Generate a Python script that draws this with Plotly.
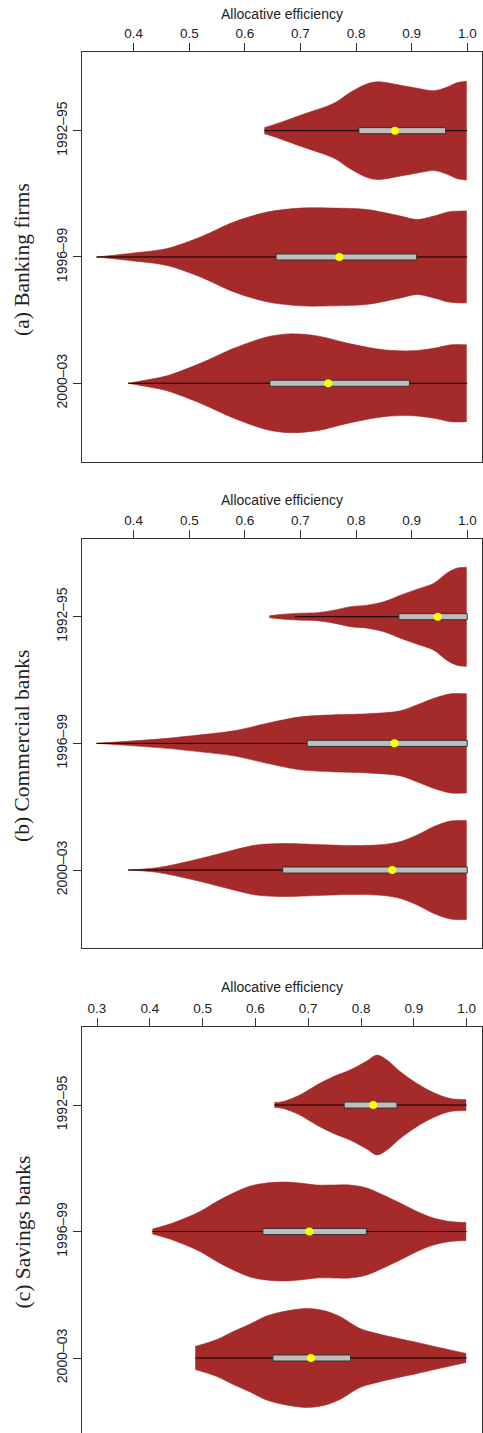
import plotly.graph_objects as go

# ---------------- data ----------------
categories = ["1992–95", "1996–99", "2000–03"]
panel_titles = ["(a) Banking firms", "(b) Commercial banks", "(c) Savings banks"]
axis_title = "Allocative efficiency"
ticks_ab = [0.4, 0.5, 0.6, 0.7, 0.8, 0.9, 1.0]
ticks_c = [0.3, 0.4, 0.5, 0.6, 0.7, 0.8, 0.9, 1.0]

# density profiles (efficiency grid, relative half-width)
banking_grid = [
    [0.635, 0.66, 0.70, 0.76, 0.79, 0.82, 0.84, 0.88, 0.91, 0.94, 0.963, 0.981, 0.999],
    [0.333, 0.36, 0.40, 0.46, 0.52, 0.58, 0.64, 0.70, 0.76, 0.82, 0.88, 0.91, 0.94, 0.97, 0.999],
    [0.390, 0.43, 0.46, 0.52, 0.58, 0.64, 0.68, 0.73, 0.79, 0.85, 0.90, 0.94, 0.97, 0.999],
]
banking_dens = [
    [0.06, 0.15, 0.31, 0.55, 0.77, 0.94, 0.98, 0.91, 0.85, 0.80, 0.87, 0.96, 0.99],
    [0.0, 0.03, 0.08, 0.17, 0.40, 0.70, 0.90, 0.98, 0.98, 0.95, 0.82, 0.75, 0.82, 0.91, 0.92],
    [0.0, 0.08, 0.15, 0.40, 0.70, 0.93, 0.99, 0.95, 0.79, 0.67, 0.65, 0.70, 0.77, 0.77],
]
commercial_grid = [
    [0.644, 0.67, 0.70, 0.73, 0.76, 0.79, 0.82, 0.85, 0.88, 0.91, 0.94, 0.963, 0.981, 0.999],
    [0.333, 0.40, 0.46, 0.52, 0.58, 0.64, 0.70, 0.76, 0.82, 0.88, 0.91, 0.94, 0.97, 0.999],
    [0.390, 0.43, 0.46, 0.52, 0.58, 0.62, 0.67, 0.73, 0.79, 0.85, 0.88, 0.91, 0.94, 0.97, 0.999],
]
commercial_dens = [
    [0.02, 0.05, 0.07, 0.08, 0.13, 0.20, 0.23, 0.30, 0.43, 0.55, 0.67, 0.87, 0.97, 0.99],
    [0.0, 0.05, 0.10, 0.17, 0.25, 0.40, 0.53, 0.57, 0.59, 0.65, 0.77, 0.90, 0.99, 0.99],
    [0.0, 0.03, 0.08, 0.23, 0.40, 0.50, 0.53, 0.51, 0.49, 0.51, 0.57, 0.70, 0.87, 0.98, 0.99],
]
savings_grid = [
    [0.636, 0.653, 0.684, 0.716, 0.748, 0.779, 0.811, 0.830, 0.849, 0.874, 0.906, 0.937, 0.969, 0.999],
    [0.405, 0.432, 0.463, 0.495, 0.527, 0.558, 0.590, 0.621, 0.653, 0.684, 0.716, 0.748, 0.779,
     0.811, 0.842, 0.874, 0.906, 0.937, 0.969, 0.999],
    [0.486, 0.527, 0.558, 0.590, 0.621, 0.653, 0.697, 0.729, 0.760, 0.798, 0.842, 0.906, 0.969, 0.999],
]
savings_dens = [
    [0.05, 0.07, 0.20, 0.40, 0.57, 0.70, 0.88, 1.0, 0.90, 0.67, 0.43, 0.25, 0.13, 0.11],
    [0.05, 0.13, 0.25, 0.40, 0.60, 0.77, 0.91, 0.97, 0.99, 0.97, 0.93, 0.93, 0.93,
     0.87, 0.73, 0.57, 0.40, 0.27, 0.20, 0.18],
    [0.23, 0.37, 0.53, 0.68, 0.84, 0.93, 0.99, 0.95, 0.83, 0.59, 0.46, 0.31, 0.16, 0.09],
]

# box statistics
banking_q1 = [0.805, 0.656, 0.645]
banking_q3 = [0.961, 0.909, 0.896]
banking_med = [0.870, 0.770, 0.750]
banking_wlo = [0.635, 0.333, 0.390]
banking_whi = [1.0, 1.0, 1.0]

commercial_q1 = [0.877, 0.712, 0.668]
commercial_q3 = [1.0, 1.0, 1.0]
commercial_med = [0.947, 0.869, 0.865]
commercial_wlo = [0.690, 0.333, 0.390]
commercial_whi = [1.0, 1.0, 1.0]

savings_q1 = [0.768, 0.614, 0.633]
savings_q3 = [0.868, 0.810, 0.780]
savings_med = [0.823, 0.702, 0.705]
savings_wlo = [0.636, 0.405, 0.486]
savings_whi = [1.0, 1.0, 1.0]

# ---------------- figure ----------------
W, H = 483, 1433
VC = "#A52A2A"
HALF = 0.395
BOX_HALF = 0.024
FRAME = "#333333"
SANS = "Liberation Sans, Arial, sans-serif"
SERIF = "Liberation Serif, Times New Roman, serif"

panels = [
    dict(grid=banking_grid, dens=banking_dens, q1=banking_q1, q3=banking_q3, med=banking_med,
         wlo=banking_wlo, whi=banking_whi, ticks=ticks_ab, xr=[0.307, 1.0265],
         top=52, bot=461.7, yr=[3.621, 0.377], title_y=14, label_y=260),
    dict(grid=commercial_grid, dens=commercial_dens, q1=commercial_q1, q3=commercial_q3,
         med=commercial_med, wlo=commercial_wlo, whi=commercial_whi, ticks=ticks_ab,
         xr=[0.307, 1.0265], top=539.3, bot=948.3, yr=[3.618, 0.389], title_y=500, label_y=746),
    dict(grid=savings_grid, dens=savings_dens, q1=savings_q1, q3=savings_q3, med=savings_med,
         wlo=savings_wlo, whi=savings_whi, ticks=ticks_c, xr=[0.2716, 1.029],
         top=1027, bot=1433, yr=[3.593, 0.383], title_y=986.7, label_y=1232.5),
]

fig = go.Figure()
layout = dict(width=W, height=H, margin=dict(l=0, r=0, t=0, b=0),
              paper_bgcolor="white", plot_bgcolor="white", showlegend=False,
              annotations=[])

for i, P in enumerate(panels):
    sfx = "" if i == 0 else str(i + 1)
    xa, ya = "x" + sfx, "y" + sfx
    pos = [1, 2, 3]
    for j in range(3):
        g, d = P["grid"][j], P["dens"][j]
        # lower edge, then upper edge filled to it (straight closing edges at both ends)
        fig.add_trace(go.Scatter(x=g, y=[pos[j] + HALF * v for v in d], mode="lines",
                                 line=dict(color=VC, width=0.6, shape="spline", smoothing=0.9),
                                 xaxis=xa, yaxis=ya, hoverinfo="skip"))
        fig.add_trace(go.Scatter(x=g, y=[pos[j] - HALF * v for v in d], mode="lines",
                                 fill="tonexty", fillcolor=VC,
                                 line=dict(color=VC, width=0.6, shape="spline", smoothing=0.9),
                                 xaxis=xa, yaxis=ya, hoverinfo="skip"))
    for j in range(3):
        fig.add_trace(go.Scatter(x=[P["wlo"][j], P["whi"][j]], y=[pos[j], pos[j]], mode="lines",
                                 line=dict(color="black", width=1), xaxis=xa, yaxis=ya,
                                 hoverinfo="skip"))
        a, b = P["q1"][j], P["q3"][j]
        fig.add_trace(go.Scatter(x=[a, b, b, a, a],
                                 y=[pos[j] - BOX_HALF, pos[j] - BOX_HALF, pos[j] + BOX_HALF,
                                    pos[j] + BOX_HALF, pos[j] - BOX_HALF],
                                 mode="lines", fill="toself", fillcolor="#BEBEBE",
                                 line=dict(color=FRAME, width=1), xaxis=xa, yaxis=ya,
                                 hoverinfo="skip"))
    fig.add_trace(go.Scatter(x=P["med"], y=pos, mode="markers",
                             marker=dict(color="#FFFF00", size=8, line=dict(width=0)),
                             xaxis=xa, yaxis=ya, hoverinfo="skip"))

    layout["xaxis" + sfx] = dict(
        domain=[82 / W, 482 / W], range=P["xr"], side="top", anchor=ya,
        showline=True, linecolor=FRAME, linewidth=1.2, mirror=(i < 2),
        ticks="outside", ticklen=8, tickcolor=FRAME, tickwidth=1,
        tickvals=P["ticks"], ticktext=["%.1f" % t for t in P["ticks"]],
        tickfont=dict(family=SANS, size=13.5, color="#222"),
        showgrid=False, zeroline=False, fixedrange=True)
    layout["yaxis" + sfx] = dict(
        domain=[1 - P["bot"] / H, 1 - P["top"] / H], range=P["yr"], anchor=xa,
        showline=True, linecolor=FRAME, linewidth=1.2, mirror=True,
        ticks="outside", ticklen=8, tickcolor=FRAME, tickwidth=1,
        tickvals=pos, ticktext=categories, tickangle=-90,
        tickfont=dict(family=SANS, size=14, color="#222"),
        showgrid=False, zeroline=False, fixedrange=True)
    layout["annotations"].append(dict(
        text=axis_title, xref="paper", yref="paper", x=282 / W, y=1 - P["title_y"] / H,
        xanchor="center", yanchor="middle", showarrow=False,
        font=dict(family=SANS, size=14, color="#222")))
    layout["annotations"].append(dict(
        text=panel_titles[i], xref="paper", yref="paper", x=22 / W, y=1 - P["label_y"] / H,
        xanchor="center", yanchor="middle", showarrow=False, textangle=-90,
        font=dict(family=SERIF, size=21.5, color="#222")))

fig.update_layout(**layout)
fig.write_html("out.html", config=dict(displayModeBar=False),
               post_script="document.body.style.margin='0';document.body.style.overflow='hidden';")
